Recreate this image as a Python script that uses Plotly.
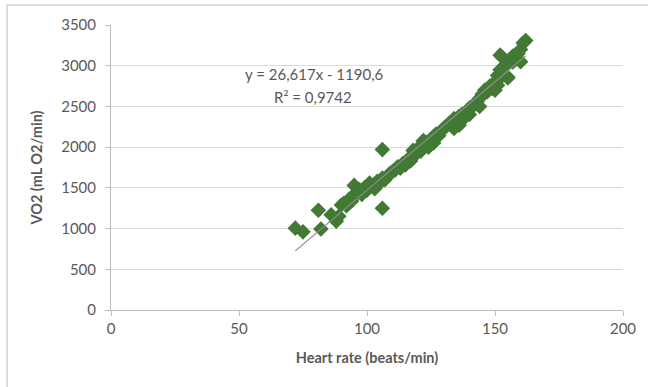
import plotly.graph_objects as go

heart_rate = [72, 75, 81, 82, 86, 88, 89, 90, 91, 92, 93, 94, 95, 95, 96, 97, 98, 99, 100, 101,
              102, 103, 104, 105, 106, 106, 106, 107, 108, 109, 110, 111, 112, 113, 114, 115, 116, 117, 118, 118,
              119, 120, 121, 122, 122, 123, 124, 125, 126, 126, 127, 128, 129, 130, 131, 132, 133, 134, 134, 135,
              136, 136, 137, 138, 139, 140, 140, 141, 142, 143, 144, 144, 145, 146, 147, 148, 149, 150, 150, 151,
              151, 152, 152, 153, 153, 154, 155, 156, 157, 158, 159, 160, 160, 161, 162, 152, 155, 157]
vo2 = [1005, 960, 1225, 995, 1170, 1090, 1150, 1290, 1310, 1280, 1360, 1340, 1400, 1530, 1450, 1480, 1420, 1500, 1470, 1560,
       1520, 1490, 1580, 1560, 1250, 1970, 1620, 1600, 1640, 1680, 1700, 1720, 1760, 1740, 1800, 1780, 1850, 1830, 1960, 1880,
       1920, 1990, 1950, 2020, 2080, 2060, 2000, 2100, 2130, 2050, 2160, 2140, 2200, 2230, 2260, 2290, 2280, 2350, 2230, 2300,
       2380, 2270, 2400, 2360, 2430, 2480, 2400, 2500, 2520, 2560, 2600, 2500, 2650, 2700, 2680, 2750, 2720, 2800, 2700, 2880,
       2760, 2950, 2850, 3100, 2900, 3000, 2850, 3050, 3120, 3080, 3150, 3200, 3050, 3280, 3310, 3130, 2860, 3045]

slope = 26.617
intercept = -1190.6
trend_x = [72, 162]
trend_y = [slope * v + intercept for v in trend_x]

x_ticks = [0, 50, 100, 150, 200]
y_ticks = [0, 500, 1000, 1500, 2000, 2500, 3000, 3500]

GRAY = "#595959"
FONT = "Lato"

fig = go.Figure()
fig.add_trace(go.Scatter(x=heart_rate, y=vo2, mode="markers",
                         marker=dict(symbol="diamond", size=12, color="#427a35", line=dict(width=0)),
                         showlegend=False, hoverinfo="x+y"))
fig.add_trace(go.Scatter(x=trend_x, y=trend_y, mode="lines",
                         line=dict(color="#8c8c8c", width=1.2), showlegend=False))

fig.update_layout(
    width=648, height=387,
    margin=dict(l=111, r=25, t=25, b=77),
    paper_bgcolor="white", plot_bgcolor="white",
    font=dict(family=FONT, color=GRAY, size=15),
    xaxis=dict(range=[0, 200], tickvals=x_ticks, showgrid=False, zeroline=False,
               showline=True, linecolor="#bfbfbf", linewidth=1, automargin=False,
               ticks="outside", ticklen=5, tickcolor="#bfbfbf",
               title=dict(text="<b>Heart rate (beats/min)</b>", font=dict(size=14.5, color=GRAY), standoff=16),
               tickfont=dict(size=15, color=GRAY)),
    yaxis=dict(range=[0, 3500], tickvals=y_ticks, showgrid=True, gridcolor="#d9d9d9", gridwidth=1,
               zeroline=False, showline=True, linecolor="#bfbfbf", linewidth=1, automargin=False,
               ticks="outside", ticklen=5, tickcolor="#bfbfbf", ticklabelstandoff=6,
               title=dict(text="<b>VO2 (mL O2/min)</b>", font=dict(size=14.5, color=GRAY), standoff=15),
               tickfont=dict(size=15, color=GRAY)),
    annotations=[
        dict(x=79.5, y=2898, xref="x", yref="y", text="y = 26,617x - 1190,6",
             showarrow=False, font=dict(size=15, color=GRAY)),
        dict(x=78.8, y=2616, xref="x", yref="y", text="R² = 0,9742",
             showarrow=False, font=dict(size=15, color=GRAY)),
    ],
    shapes=[
        dict(type="line", xref="paper", yref="paper", x0=-0.203, x1=1.06, y0=1.07, y1=1.07,
             line=dict(color="#d0d0d0", width=1.5)),
        dict(type="line", xref="paper", yref="paper", x0=-0.203, x1=-0.203, y0=1.07, y1=-0.3,
             line=dict(color="#d0d0d0", width=1.5)),
    ],
)

fig.write_html("out.html", config={"displayModeBar": False},
               post_script="document.body.style.margin='0';document.body.style.overflow='hidden';")
